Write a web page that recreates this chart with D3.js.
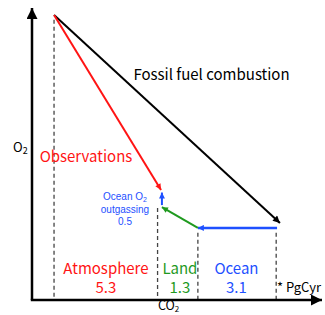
<!DOCTYPE html>
<html><head><meta charset="utf-8">
<script src="https://cdn.jsdelivr.net/npm/d3@7"></script>
<style>html,body{margin:0;padding:0;background:#fff;overflow:hidden}</style>
</head><body>
<script>
// Schematic coordinates (CO2 on x, O2 on y), arbitrary units 0-100
const startPoint = [7.6, 97.6];
const fossilEnd = [85.5, 26.4];
const oceanSeg = [[84.5, 24.7], [57.2, 24.7]];
const landSeg = [[57.2, 24.7], [44.8, 31.8]];
const outgasSeg = [[44.8, 32.5], [44.8, 36.8]];
const obsEnd = [44.5, 37.7];
const dashX = [7.6, 43.3, 57.2, 84.2];
const dashTop = [96, 31.5, 23, 23];
const sinkNames = ["Atmosphere", "Land", "Ocean"];
const sinkValues = ["5.3", "1.3", "3.1"];
const sinkCenters = [25.5, 51, 70.5];
const colors = {red: "#ff1414", green: "#1f9a1f", blue: "#1e50ff", black: "#000"};

const W = 325, H = 315;
const x = d3.scaleLinear().domain([0, 100]).range([32, 322]);
const y = d3.scaleLinear().domain([0, 100]).range([300, 8]);
const svg = d3.select("body").append("svg").attr("width", W).attr("height", H);
const font = "'Noto Sans CJK JP', 'Noto Sans', sans-serif";
const smallFont = "'Liberation Sans', Arial, sans-serif";

// markers
const defs = svg.append("defs");
function marker(id, color, w, h) {
  defs.append("marker").attr("id", id).attr("viewBox", "0 0 10 10")
    .attr("refX", 10).attr("refY", 5).attr("markerUnits", "userSpaceOnUse")
    .attr("markerWidth", w).attr("markerHeight", h).attr("orient", "auto")
    .append("path").attr("d", "M0,0L10,5L0,10Z").attr("fill", color);
}
marker("mBlack", colors.black, 9, 7);
marker("mRed", colors.red, 8, 6);
marker("mGreen", colors.green, 8, 6);
marker("mBlue", colors.blue, 8, 6);
marker("mAxis", "#000", 16, 11);

// dashed guides
dashX.forEach((dx, i) => {
  svg.append("line").attr("x1", x(dx)).attr("x2", x(dx))
    .attr("y1", y(dashTop[i])).attr("y2", y(0))
    .attr("stroke", "#444").attr("stroke-width", 1.3).attr("stroke-dasharray", "4,3");
});

// axes
svg.append("line").attr("x1", x(0)).attr("y1", y(0)).attr("x2", x(0)).attr("y2", y(100))
  .attr("stroke", "#000").attr("stroke-width", 2.5).attr("marker-end", "url(#mAxis)");
svg.append("line").attr("x1", x(0) - 1.2).attr("y1", y(0)).attr("x2", x(100)).attr("y2", y(0))
  .attr("stroke", "#000").attr("stroke-width", 2.5).attr("marker-end", "url(#mAxis)");

function seg(p, q, color, m, w) {
  svg.append("line").attr("x1", x(p[0])).attr("y1", y(p[1])).attr("x2", x(q[0])).attr("y2", y(q[1]))
    .attr("stroke", color).attr("stroke-width", w).attr("marker-end", "url(#" + m + ")");
}
seg(startPoint, fossilEnd, colors.black, "mBlack", 2);
seg(startPoint, obsEnd, colors.red, "mRed", 2);
seg(oceanSeg[0], oceanSeg[1], colors.blue, "mBlue", 2.5);
seg(landSeg[0], landSeg[1], colors.green, "mGreen", 2);
seg(outgasSeg[0], outgasSeg[1], colors.blue, "mBlue", 2);

function txt(px, py, s, size, color, anchor, fam) {
  return svg.append("text").attr("x", px).attr("y", py).attr("font-family", fam || font)
    .attr("font-size", size).attr("fill", color).attr("text-anchor", anchor || "middle").text(s);
}
txt(211.5, 80, "Fossil fuel combustion", 15, "#000");
txt(86, 162, "Observations", 15, colors.red);

const o2 = svg.append("text").attr("x", 13).attr("y", 152).attr("font-family", font)
  .attr("font-size", 13).attr("fill", "#000");
o2.append("tspan").text("O");
o2.append("tspan").attr("font-size", 9).attr("dy", 2).text("2");

const oc = svg.append("text").attr("x", 125).attr("y", 200).attr("font-family", smallFont)
  .attr("font-size", 10).attr("fill", colors.blue).attr("text-anchor", "middle");
oc.append("tspan").text("Ocean O");
oc.append("tspan").attr("font-size", 7).attr("dy", 2).text("2");
txt(125, 213, "outgassing", 10, colors.blue, "middle", smallFont);
txt(125, 225, "0.5", 10, colors.blue, "middle", smallFont);

const sinkColors = [colors.red, colors.green, colors.blue];
sinkNames.forEach((n, i) => {
  txt(x(sinkCenters[i]), 274, n, 15, sinkColors[i]);
  txt(x(sinkCenters[i]), 293, sinkValues[i], 15, sinkColors[i]);
});
txt(277, 292, "* PgCyr", 13, "#000", "start");

const co2 = svg.append("text").attr("x", 158).attr("y", 310).attr("font-family", font)
  .attr("font-size", 12.5).attr("fill", "#000");
co2.append("tspan").text("CO");
co2.append("tspan").attr("font-size", 8).attr("dy", 1.5).text("2");
</script>
</body></html>
